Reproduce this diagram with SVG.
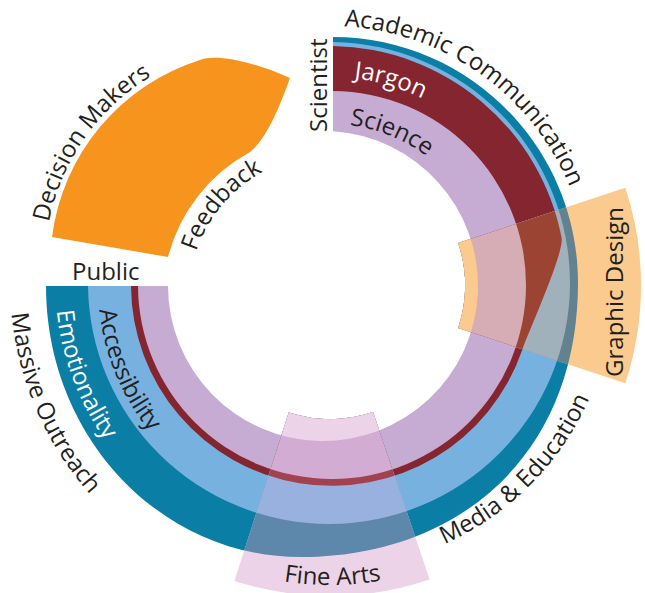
<svg xmlns="http://www.w3.org/2000/svg" xmlns:xlink="http://www.w3.org/1999/xlink" width="645" height="593" viewBox="0 0 645 593">
<style>
.lbl{font-family:"Open Sans","Liberation Sans",sans-serif;font-size:24px;fill:#231F20}
.wht{fill:#FFFFFF}
.teal{fill:#0B7EA6}.lblue{fill:#76B1DF}.dred{fill:#842530}.purp{fill:#C6ABD3}.hole{fill:#FFFFFF}
</style>
<defs>
<path id="p0" d="M 333 37 C 468.3 37 578 147.1 578 283 C 578 452 462 557 300 557 C 159.7 557 46 435.7 46 286 L 333 286 Z"/>
<path id="p1" d="M 333 42 A 241 241 0 1 1 88 286 L 333 286 Z"/>
<path id="p2" d="M 333 46 A 237 237 0 0 1 561.6 237.8 C 564.5 252.5 528.5 331.5 522 350.4 A 201 201 0 0 1 131 286 L 333 286 Z"/>
<path id="p3" d="M 333 91 A 194 194 0 1 1 138 286 L 333 286 Z"/>
<path id="p4" d="M 333 131.3 A 155 155 0 1 1 168 286 L 333 286 Z"/>
<path id="gd" d="M 458.2 243.1 L 625.3 187.8 A 311 311 0 0 1 625.3 383.2 L 458.2 327.9 A 135 135 0 0 0 458.2 243.1 Z"/>
<path id="fa" d="M 288.8 412.5 A 134 134 0 0 0 373 411.9 L 429.7 579.6 A 311 311 0 0 1 234.4 580.9 Z"/>
<clipPath id="clipGD"><use xlink:href="#gd"/></clipPath>
<clipPath id="clipFA"><use xlink:href="#fa"/></clipPath>
<path id="tAcad" d="M 309.7 26.8 A 259 259 0 0 1 580.7 220.1"/>
<path id="tJarg" d="M 247.1 94.2 A 208 208 0 0 1 503.5 170.2"/>
<path id="tSci" d="M 280.2 131.9 A 161 161 0 0 1 472.2 209.4"/>
<path id="tMass" d="M 23.1 192.4 A 319 319 0 0 0 186.7 568.5"/>
<path id="tEmo" d="M 71.2 191.7 A 273.5 273.5 0 0 0 194.3 521.1"/>
<path id="tAcc" d="M 108.8 214.6 A 234 234 0 0 0 224 492.6"/>
<path id="tMedia" d="M 355.4 567 A 283 283 0 0 0 612 309"/>
<path id="tFine" d="M 139.2 516.5 A 300 300 0 0 0 524.8 513.1"/>
<path id="tDec" d="M 45.8 283.1 A 219 219 0 0 1 207.3 52.5"/>
<path id="tFeed" d="M 189 296 A 141 141 0 0 1 305.5 157.1"/>
</defs>

<g id="decision-makers">
<path d="M 52 237 A 214 214 0 0 1 200 60 C 214 54 250 60 290 78 C 282 100 268 138 250 152 A 167 167 0 0 0 168 257 Z" fill="#F7941E"/>
</g>

<g id="ring">
<use xlink:href="#p0" class="teal"/>
<use xlink:href="#p1" class="lblue"/>
<use xlink:href="#p2" class="dred"/>
<use xlink:href="#p3" class="purp"/>
<use xlink:href="#p4" class="hole"/>
</g>

<g id="graphic-design">
<use xlink:href="#gd" fill="#FBCA8E"/>
<g clip-path="url(#clipGD)">
<use xlink:href="#p0" fill="#63828F"/>
<use xlink:href="#p1" fill="#A0B1BB"/>
<use xlink:href="#p2" fill="#9C4433"/>
<use xlink:href="#p3" fill="#D7ADB5"/>
<use xlink:href="#p4" fill="#FBCA8E"/>
</g>
</g>

<g id="fine-arts">
<use xlink:href="#fa" fill="#EDD3E7"/>
<g clip-path="url(#clipFA)">
<use xlink:href="#p0" fill="#5E88AB"/>
<use xlink:href="#p1" fill="#98B1DF"/>
<use xlink:href="#p2" fill="#A2424F"/>
<use xlink:href="#p3" fill="#D2ACD3"/>
<use xlink:href="#p4" fill="#EDD3E7"/>
</g>
</g>

<g id="labels">
<text class="lbl" font-size="23"><textPath xlink:href="#tAcad" startOffset="50%" text-anchor="middle">Academic Communication</textPath></text>
<text class="lbl wht"><textPath xlink:href="#tJarg" startOffset="50%" text-anchor="middle">Jargon</textPath></text>
<text class="lbl"><textPath xlink:href="#tSci" startOffset="50%" text-anchor="middle">Science</textPath></text>
<text class="lbl" transform="translate(326.5 132) rotate(-90)">Scientist</text>
<text class="lbl"><textPath xlink:href="#tDec" startOffset="50%" text-anchor="middle">Decision Makers</textPath></text>
<text class="lbl"><textPath xlink:href="#tFeed" startOffset="50%" text-anchor="middle">Feedback</textPath></text>
<text class="lbl" x="72" y="279.5">Public</text>
<text class="lbl"><textPath xlink:href="#tMass" startOffset="50%" text-anchor="middle">Massive Outreach</textPath></text>
<text class="lbl wht"><textPath xlink:href="#tEmo" startOffset="50%" text-anchor="middle">Emotionality</textPath></text>
<text class="lbl"><textPath xlink:href="#tAcc" startOffset="50%" text-anchor="middle">Accessibility</textPath></text>
<text class="lbl" transform="translate(623 292) rotate(-90)" text-anchor="middle">Graphic Design</text>
<text class="lbl"><textPath xlink:href="#tMedia" startOffset="50%" text-anchor="middle">Media &amp; Education</textPath></text>
<text class="lbl"><textPath xlink:href="#tFine" startOffset="50%" text-anchor="middle">Fine Arts</textPath></text>
</g>
</svg>
